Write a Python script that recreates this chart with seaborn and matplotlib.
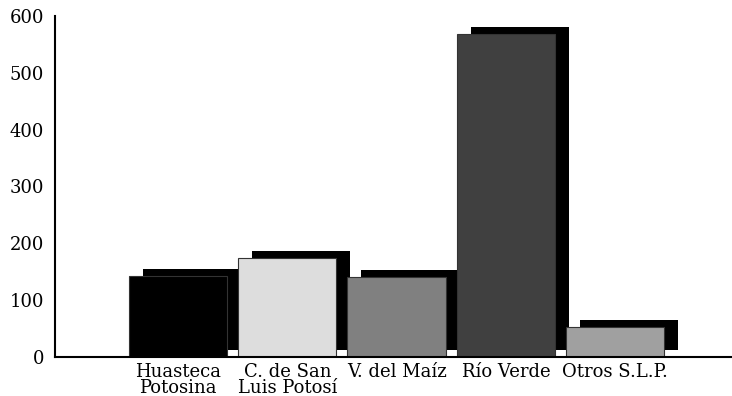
import matplotlib
matplotlib.use('Agg')
import matplotlib.pyplot as plt
import matplotlib.patheffects as pe
import seaborn as sns
import pandas as pd

regiones = ['Huasteca\nPotosina', 'C. de San\nLuis Potosí', 'V. del Maíz', 'Río Verde', 'Otros S.L.P.']
valores = [143, 174, 141, 568, 53]
colores = ['#000000', '#dddddd', '#808080', '#404040', '#a0a0a0']

sns.set_style('white')
plt.rcParams['font.family'] = ['DejaVu Serif']

df = pd.DataFrame({'region': regiones, 'valor': valores})

fig = plt.figure(figsize=(7.32, 3.96), dpi=100)
ax = fig.add_axes([55 / 732, 39 / 396, 677 / 732, 341 / 396])

sns.barplot(data=df, x='region', y='valor', hue='region', palette=colores,
            width=0.9, edgecolor='#333333', linewidth=0.8, legend=False, ax=ax)

# drop shadow behind each bar
for bar in ax.patches:
    bar.set_path_effects([
        pe.SimplePatchShadow(offset=(10, 5), shadow_rgbFace='black', alpha=1.0),
        pe.Normal(),
    ])

ax.set_xlim(-1.126, 5.07)
ax.set_ylim(0, 600)
ax.set_yticks([0, 100, 200, 300, 400, 500, 600])
ax.set_xlabel('')
ax.set_ylabel('')

sns.despine(ax=ax, top=True, right=True)
for s in ['left', 'bottom']:
    ax.spines[s].set_linewidth(1.5)
    ax.spines[s].set_color('black')

ax.tick_params(axis='y', direction='in', length=12, width=1.5, pad=8, labelsize=13, colors='black')
ax.tick_params(axis='x', length=0, pad=4, labelsize=13, colors='black')
for lbl in ax.get_xticklabels():
    lbl.set_linespacing(0.9)

fig.savefig('out.png', dpi=100, facecolor='white')
